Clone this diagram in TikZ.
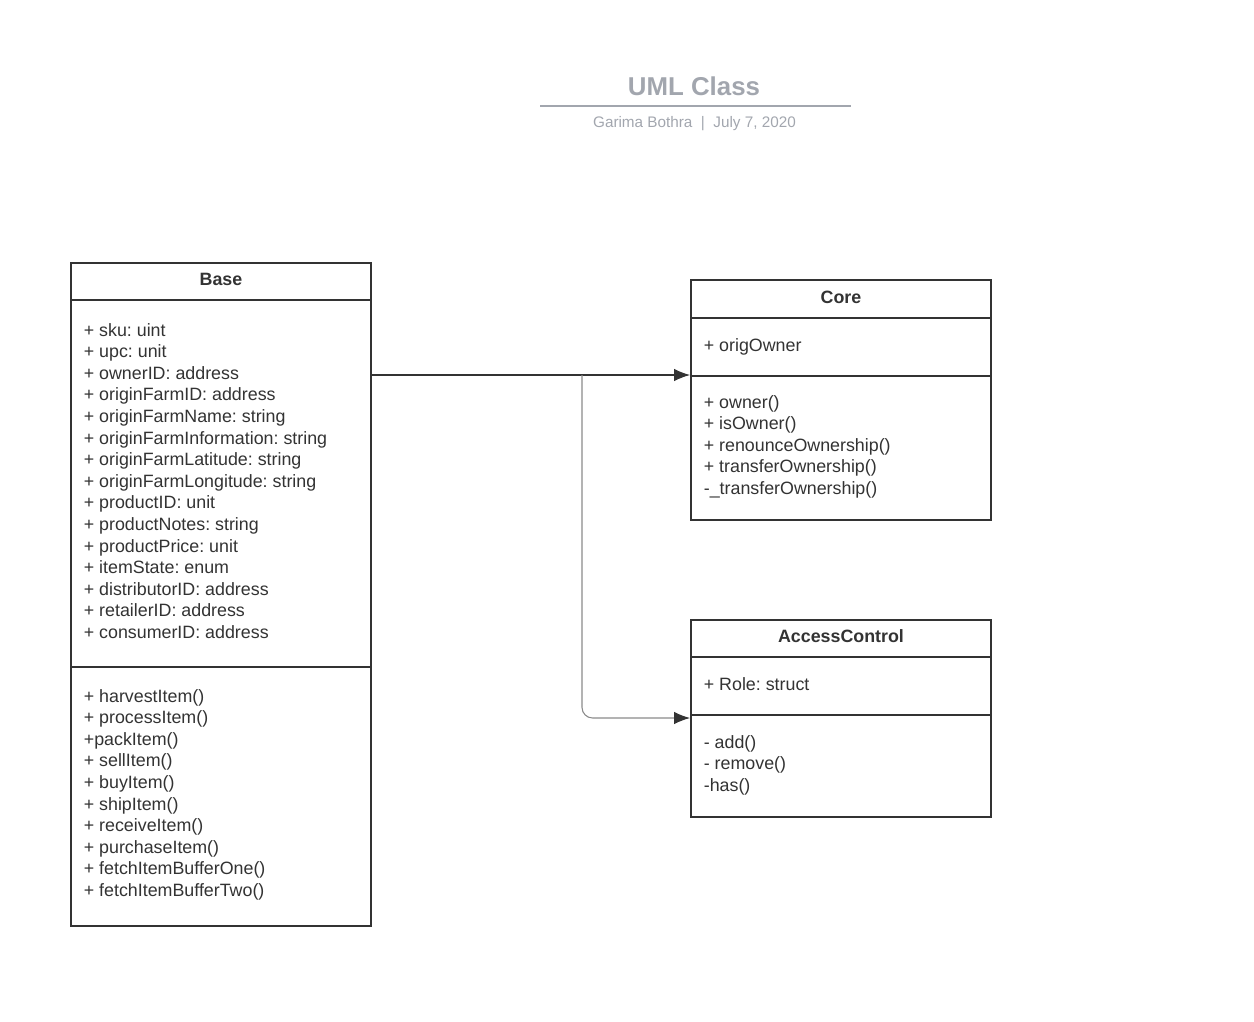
\documentclass[tikz,border=0pt]{standalone}
\usepackage{fontspec}
\setmainfont{Liberation Sans}
\usetikzlibrary{arrows.meta,positioning,calc}
\definecolor{ink}{HTML}{333333}
\definecolor{titlec}{HTML}{A2A6AE}
\definecolor{branchc}{HTML}{8A8A8A}
\frenchspacing
\tikzset{
  cls/.style={rectangle, draw=ink, line width=1.15pt, fill=white, minimum width=6cm, inner sep=0pt},
  sep/.style={draw=ink, line width=1.15pt},
  head/.style={font=\fontsize{10.15}{12}\selectfont\bfseries, text=ink, inner sep=0pt, anchor=base},
  member/.style={font=\fontsize{10.15}{12}\selectfont, text=ink, inner sep=0pt, anchor=base west},
  link/.style={-{Latex[length=9pt, width=7pt, color=ink]}, draw=ink, line width=0.6pt},
  branch/.style={draw=branchc, rounded corners=6pt},
}
\begin{document}
\begin{tikzpicture}[x=0.02cm, y=-0.02cm]
  \useasboundingbox (0,0) rectangle (1254,1021);
  \node[font=\fontsize{14.7}{16}\selectfont\bfseries, text=titlec, inner sep=0pt] (title) at (694,86) {UML Class};
  \draw[titlec, line width=1.1pt] (540,106) -- (851,106);
  \node[font=\fontsize{8.7}{10}\selectfont, text=titlec, inner sep=0pt, anchor=base] (byline) at (694.5,127) {Garima Bothra \ | \ July 7, 2020};
  \node[cls, minimum height=13.26cm] (base) at (221,594.5) {};
  \node[cls, minimum height=4.8cm] (core) at (841,400) {};
  \node[cls, minimum height=3.94cm] (access) at (841,718.5) {};
  \draw[sep] (base.west |- 0,300) -- (base.east |- 0,300);
  \draw[sep] (base.west |- 0,667) -- (base.east |- 0,667);
  \draw[sep] (core.west |- 0,318) -- (core.east |- 0,318);
  \draw[sep] (core.west |- 0,376) -- (core.east |- 0,376);
  \draw[sep] (access.west |- 0,657) -- (access.east |- 0,657);
  \draw[sep] (access.west |- 0,715) -- (access.east |- 0,715);
  \node[head] (basehead) at (221,285.5) {Base};
  \node[head] (corehead) at (841,303) {Core};
  \node[head] (accesshead) at (841,642.5) {AccessControl};
  \foreach \t [count=\i] in {+ sku: uint, + upc: unit, + ownerID: address, + originFarmID: address,
      + originFarmName: string, + originFarmInformation: string, + originFarmLatitude: string,
      + originFarmLongitude: string, + productID: unit, + productNotes: string, + productPrice: unit,
      + itemState: enum, + distributorID: address, + retailerID: address, + consumerID: address}
    \node[member] (battr\i) at (83.5,{336+21.6*(\i-1)}) {\t};
  \foreach \t [count=\i] in {+ harvestItem(), + processItem(), +packItem(), + sellItem(), + buyItem(),
      + shipItem(), + receiveItem(), + purchaseItem(), + fetchItemBufferOne(), + fetchItemBufferTwo()}
    \node[member] (bop\i) at (83.5,{702+21.6*(\i-1)}) {\t};
  \node[member] (cattr1) at (703.5,351) {+ origOwner};
  \foreach \t [count=\i] in {+ owner(), + isOwner(), + renounceOwnership(), + transferOwnership(),
      -\_transferOwnership()}
    \node[member] (cop\i) at (703.5,{408+21.6*(\i-1)}) {\t};
  \node[member] (aattr1) at (703.5,690) {+ Role: struct};
  \foreach \t [count=\i] in {- add(), - remove(), -has()}
    \node[member] (aop\i) at (703.5,{748+21.6*(\i-1)}) {\t};
  \coordinate (junction) at (582,375);
  \draw[link] (base.east |- junction) -- (core.west |- junction);
  \draw[link, branch] (junction) |- (access.west |- 0,718);
\end{tikzpicture}
\end{document}
